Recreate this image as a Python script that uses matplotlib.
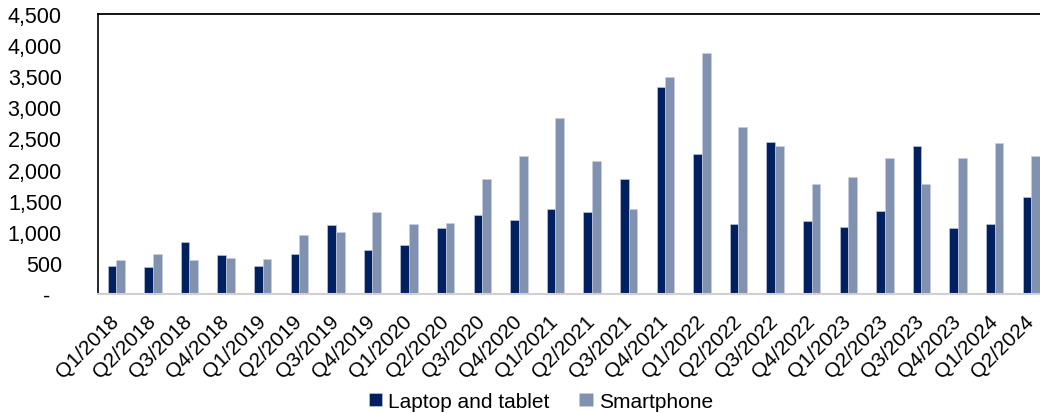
import numpy as np
import matplotlib
matplotlib.use("Agg")
import matplotlib.pyplot as plt
import matplotlib.transforms as mtransforms

plt.rcParams["font.family"] = ["Liberation Sans", "DejaVu Sans"]

# quarterly values
quarters = ["Q1/2018", "Q2/2018", "Q3/2018", "Q4/2018",
            "Q1/2019", "Q2/2019", "Q3/2019", "Q4/2019",
            "Q1/2020", "Q2/2020", "Q3/2020", "Q4/2020",
            "Q1/2021", "Q2/2021", "Q3/2021", "Q4/2021",
            "Q1/2022", "Q2/2022", "Q3/2022", "Q4/2022",
            "Q1/2023", "Q2/2023", "Q3/2023", "Q4/2023",
            "Q1/2024", "Q2/2024"]
laptop = [455, 440, 840, 625, 455, 645, 1115, 710,
          780, 1065, 1270, 1190, 1365, 1320, 1845, 3330,
          2245, 1120, 2450, 1180, 1080, 1335, 2385, 1055,
          1125, 1560]
smartphone = [545, 640, 545, 580, 565, 955, 1000, 1320,
              1130, 1135, 1855, 2220, 2830, 2135, 1365, 3490,
              3875, 2690, 2385, 1770, 1885, 2180, 1765, 2185,
              2430, 2215]
yticks = np.arange(0, 4501, 500)
yticklabels = ["-  "] + ["{:,}".format(v) for v in yticks[1:]]

dark = "#002060"
light = "#8191B0"

fig = plt.figure(figsize=(10.4, 4.14), dpi=100)
ax = fig.add_axes([0.0942, 0.2874, 0.915, 0.6763])

x = np.arange(len(quarters))
w = 0.237
ax.bar(x - w / 2, laptop, w, color=dark, edgecolor="#c9d0df", linewidth=0.4,
       label="Laptop and tablet")
ax.bar(x + w / 2, smartphone, w, color=light, edgecolor="#c9d0df", linewidth=0.4,
       label="Smartphone")

ax.set_xlim(-0.5, len(quarters) - 0.5)
ax.set_ylim(0, 4500)

ax.set_yticks(yticks)
ax.set_yticklabels(yticklabels, fontsize=15.5)
ax.set_xticks(x)
ax.set_xticklabels(quarters, fontsize=15, rotation=45, ha="right",
                   rotation_mode="anchor")
ax.tick_params(axis="y", length=0, pad=26)
ax.tick_params(axis="x", length=0, pad=12)

# nudge the slanted quarter labels a little to the left
shift = mtransforms.ScaledTranslation(-5 / 72, 0, fig.dpi_scale_trans)
for lbl in ax.get_xticklabels():
    lbl.set_transform(lbl.get_transform() + shift)

# frame: black top/left, light grey baseline
ax.spines["top"].set_color("black")
ax.spines["top"].set_linewidth(1.3)
ax.spines["left"].set_color("black")
ax.spines["left"].set_linewidth(1.2)
ax.spines["right"].set_visible(False)
ax.spines["bottom"].set_color("#d0d0d0")
ax.spines["bottom"].set_linewidth(1.5)

fig.legend(loc="lower center", bbox_to_anchor=(0.52, -0.04), ncol=2,
           frameon=False, fontsize=15, handlelength=0.65, handleheight=0.65,
           handletextpad=0.3, columnspacing=1.4)

plt.savefig("out.png", dpi=100)
